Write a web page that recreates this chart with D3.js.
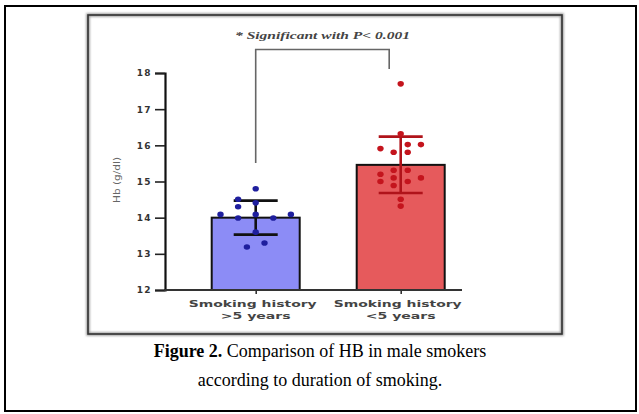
<!DOCTYPE html>
<html><head><meta charset="utf-8">
<script src="https://cdn.jsdelivr.net/npm/d3@7"></script>
<style>
html,body{margin:0;padding:0;background:#fff;}
svg{display:block;}
</style></head>
<body>
<svg id="chart" width="639" height="414"></svg>
<script>
// ---- data ----
const categories = ["Smoking history\n>5 years", "Smoking history\n<5 years"];
const means = [14.0, 15.46];
const sds = [0.47, 0.78];
const blueValues = [14.80, 14.51, 14.41, 14.30, 14.09, 14.09, 14.09, 13.99, 13.99, 13.60, 13.30, 13.19];
const blueJitter = [0, -0.2, 0, -0.2, -0.4, 0, 0.4, -0.2, 0.2, 0, 0.1, -0.1];
const redValues = [17.70, 16.32, 15.91, 16.02, 16.02, 15.81, 15.81, 15.31, 15.31, 15.20, 15.10, 15.10, 15.00, 15.00, 14.89, 14.51, 14.32];
const redJitter = [0, 0, -0.23, 0.08, 0.23, -0.08, 0.08, -0.08, 0.08, -0.23, -0.08, 0.23, -0.23, 0.08, -0.08, 0, 0];
const yTicks = [12, 13, 14, 15, 16, 17, 18];
const yTitle = "Hb (g/dl)";
const sigText = "* Significant with P< 0.001";
const captionBold = "Figure 2.";
const captionRest = " Comparison of HB in male smokers";
const captionLine2 = "according to duration of smoking.";

// ---- drawing ----
const svg = d3.select("#chart");
const defs = svg.append("defs");
const f = defs.append("filter").attr("id","blur").attr("x","-5%").attr("y","-5%").attr("width","110%").attr("height","110%");
f.append("feGaussianBlur").attr("stdDeviation", 0.9);

// outer frame
svg.append("rect").attr("x",5).attr("y",6).attr("width",631).attr("height",405)
  .attr("fill","none").attr("stroke","#000").attr("stroke-width",2);
// inner box with soft shadow
svg.append("rect").attr("x",88).attr("y",15).attr("width",474).attr("height",319)
  .attr("fill","none").attr("stroke","#999").attr("stroke-width",3.5).attr("filter","url(#blur)");
svg.append("rect").attr("x",88).attr("y",15).attr("width",474).attr("height",319)
  .attr("fill","none").attr("stroke","#333").attr("stroke-width",1.6);

const y = d3.scaleLinear().domain([12, 18]).range([290, 73]);
const x = d3.scalePoint().domain(categories).range([255.7, 400.7]);
const barW = 88;
const jitterUnit = barW;

const g = svg.append("g");

// bars
const fills = ["#8c8cf6", "#e65a5c"];
const dotCols = ["#1f1f9e", "#c4141d"];
const errCols = ["#111111", "#b0131a"];
g.selectAll("rect.bar").data(categories).join("rect")
  .attr("x", d => x(d) - barW/2)
  .attr("y", (d,i) => y(means[i]))
  .attr("width", barW)
  .attr("height", (d,i) => y(12) - y(means[i]))
  .attr("fill", (d,i) => fills[i])
  .attr("stroke", "#111").attr("stroke-width", 2);

// error bars
categories.forEach((c,i) => {
  const cx = x(c);
  const eg = g.append("g").attr("stroke", errCols[i]).attr("stroke-width", 2.6);
  eg.append("line").attr("x1",cx).attr("x2",cx).attr("y1",y(means[i]+sds[i])).attr("y2",y(means[i]-sds[i]));
  eg.append("line").attr("x1",cx-22).attr("x2",cx+22).attr("y1",y(means[i]+sds[i])).attr("y2",y(means[i]+sds[i]));
  eg.append("line").attr("x1",cx-22).attr("x2",cx+22).attr("y1",y(means[i]-sds[i])).attr("y2",y(means[i]-sds[i]));
});

// dots
const groups = [[blueValues, blueJitter], [redValues, redJitter]];
groups.forEach(([vals, jit], i) => {
  const cx = x(categories[i]);
  g.selectAll(null).data(vals).join("ellipse")
    .attr("cx", (v,k) => cx + jit[k]*jitterUnit)
    .attr("cy", v => y(v))
    .attr("rx", 3.2).attr("ry", 2.8)
    .attr("fill", dotCols[i]);
});

// y axis
const yAxis = d3.axisLeft(y).tickValues(yTicks).tickSize(10).tickPadding(3).tickFormat(d3.format("d"));
const ya = svg.append("g").attr("transform","translate(165,0)").call(yAxis);
ya.select(".domain").attr("stroke","#111").attr("stroke-width",2.2);
ya.selectAll(".tick line").attr("stroke","#222").attr("stroke-width",1.6);
ya.selectAll(".tick text").attr("font-family","DejaVu Sans").attr("font-weight","bold")
  .attr("font-size",9).attr("letter-spacing",1.4).attr("fill","#333");

// x axis
const xAxis = d3.axisBottom(x).tickSize(4).tickFormat("");
const xa = svg.append("g").attr("transform","translate(0,290)").call(xAxis);
xa.select(".domain").remove();
xa.selectAll(".tick line").attr("stroke","#333").attr("stroke-width",1.6);
svg.append("line").attr("x1",164).attr("x2",462).attr("y1",290).attr("y2",290)
  .attr("stroke","#333").attr("stroke-width",2);

// x labels
categories.forEach(c => {
  const lines = c.split("\n");
  const t = svg.append("text").attr("text-anchor","middle")
    .attr("font-family","DejaVu Sans").attr("font-weight","bold").attr("font-size",9.5).attr("fill","#444");
  t.append("tspan").attr("x", x(c) - 3).attr("y", 307).attr("textLength",128).attr("lengthAdjust","spacingAndGlyphs").text(lines[0]);
  t.append("tspan").attr("x", x(c)).attr("y", 319).attr("textLength",70).attr("lengthAdjust","spacingAndGlyphs").text(lines[1]);
});

// y title
svg.append("text").attr("transform","translate(120,180) rotate(-90)")
  .attr("text-anchor","middle").attr("font-family","DejaVu Sans").attr("font-size",8.5)
  .attr("fill","#666").attr("textLength",46).attr("lengthAdjust","spacingAndGlyphs").text(yTitle);

// significance bracket
const bx1 = x(categories[0]), bx2 = x(categories[1]) - 11.5;
svg.append("path")
  .attr("d", `M${bx1},163V49.5H${bx2}V69`)
  .attr("fill","none").attr("stroke","#666").attr("stroke-width",1.6);
svg.append("text").attr("x",322.5).attr("y",38.5).attr("text-anchor","middle")
  .attr("font-family","Liberation Serif").attr("font-style","italic").attr("font-weight","bold")
  .attr("font-size",10).attr("fill","#444").attr("textLength",175).attr("lengthAdjust","spacingAndGlyphs").text(sigText);

// caption
const cap = svg.append("text").attr("x",320).attr("y",357).attr("text-anchor","middle")
  .attr("font-family","Liberation Serif").attr("font-size",18).attr("fill","#000");
cap.append("tspan").attr("font-weight","bold").text(captionBold);
cap.append("tspan").text(captionRest);
svg.append("text").attr("x",320).attr("y",386).attr("text-anchor","middle")
  .attr("font-family","Liberation Serif").attr("font-size",18).attr("fill","#000").text(captionLine2);
</script>
</body></html>
